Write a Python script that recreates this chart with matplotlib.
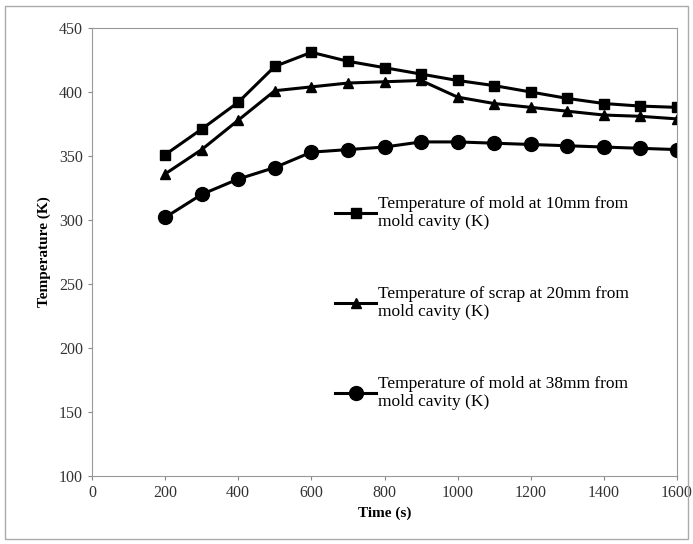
import numpy as np
import matplotlib.pyplot as plt
from matplotlib.patches import Rectangle

# данные
time_s = [200, 300, 400, 500, 600, 700, 800, 900, 1000, 1100, 1200, 1300, 1400, 1500, 1600]
mold_10mm = [351, 371, 392, 420, 431, 424, 419, 414, 409, 405, 400, 395, 391, 389, 388]
scrap_20mm = [336, 355, 378, 401, 404, 407, 408, 409, 396, 391, 388, 385, 382, 381, 379]
mold_38mm = [302, 320, 332, 341, 353, 355, 357, 361, 361, 360, 359, 358, 357, 356, 355]

labels = ['Temperature of mold at 10mm from\nmold cavity (K)',
          'Temperature of scrap at 20mm from\nmold cavity (K)',
          'Temperature of mold at 38mm from\nmold cavity (K)']

plt.rcParams['font.family'] = ['Liberation Serif', 'DejaVu Serif']

fig = plt.figure(figsize=(6.93, 5.44), dpi=100)
ax = fig.add_axes([92 / 693, 1 - 476 / 544, (677 - 92) / 693, (476 - 28) / 544])

ax.plot(time_s, mold_10mm, color='black', lw=2.2, marker='s', ms=7, label=labels[0])
ax.plot(time_s, scrap_20mm, color='black', lw=2.2, marker='^', ms=7, label=labels[1])
ax.plot(time_s, mold_38mm, color='black', lw=2.2, marker='o', ms=10, label=labels[2])

ax.set_xlim(0, 1600)
ax.set_ylim(100, 450)
ax.set_xticks(np.arange(0, 1601, 200))
ax.set_yticks(np.arange(100, 451, 50))
ax.tick_params(colors='#888888', labelcolor='#333333', labelsize=11.5, length=3)
for s in ax.spines.values():
    s.set_color('#999999')

ax.set_xlabel('Time (s)', fontsize=11, fontweight='bold', labelpad=4)
ax.set_ylabel('Temperature (K)', fontsize=11, fontweight='bold', labelpad=6)

ax.legend(loc='upper left', bbox_to_anchor=(0.415, 0.625), frameon=False,
          fontsize=12.5, labelspacing=3.2, handlelength=2.4, handletextpad=0.1,
          borderpad=0, borderaxespad=0)

# внешняя рамка
fig.patches.append(Rectangle((5 / 693, 5 / 544), 683 / 693, 533 / 544, transform=fig.transFigure,
                             fill=False, edgecolor='#aaaaaa', lw=1))

fig.savefig('out.png', dpi=100)
